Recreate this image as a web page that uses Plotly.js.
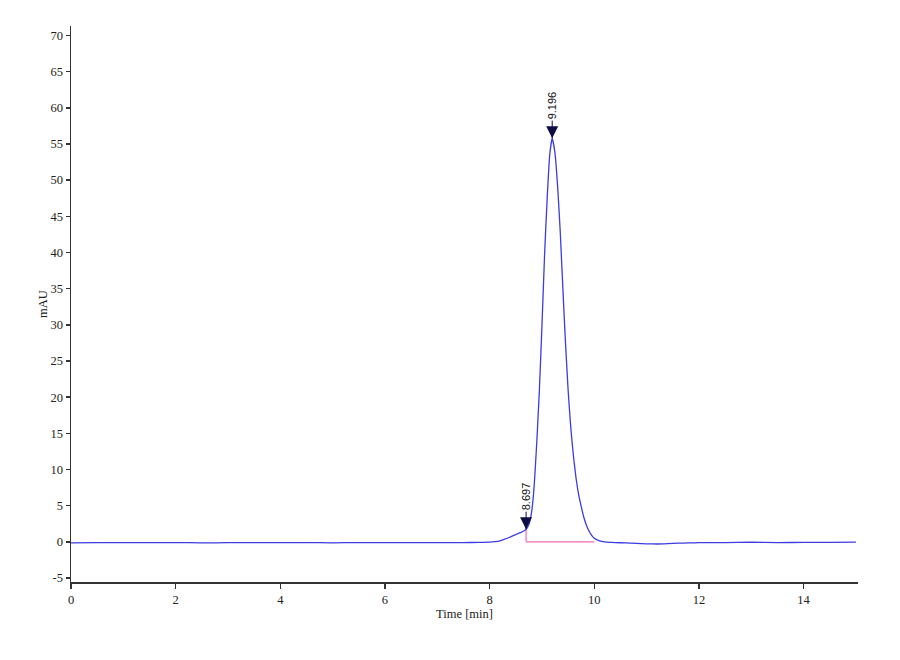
<!DOCTYPE html>
<html>
<head>
<meta charset="utf-8">
<script src="https://cdn.plot.ly/plotly-3.0.1.min.js"></script>
<style>
  html, body { margin: 0; padding: 0; background: #fff; }
  #chart { width: 900px; height: 660px; }
</style>
</head>
<body>
<div id="chart"></div>
<script>
// chromatogram signal (min, mAU)
const time = [0, 0.5, 1, 1.5, 2, 2.5, 3, 3.5, 4, 4.5, 5, 5.5, 6, 6.5, 7, 7.5, 7.8,
  8.0, 8.1, 8.2, 8.3, 8.4, 8.5, 8.6, 8.65, 8.697, 8.75, 8.8, 8.85, 8.9, 8.95,
  9.0, 9.05, 9.1, 9.15, 9.196, 9.25, 9.3, 9.35, 9.4, 9.45, 9.5, 9.55, 9.6, 9.65,
  9.7, 9.75, 9.8, 9.85, 9.9, 9.95, 10.0, 10.1, 10.2, 10.4, 10.6, 10.8, 11.0,
  11.2, 11.4, 11.6, 11.8, 12.0, 12.5, 13, 13.5, 14, 14.5, 15];
const signal = [-0.15, -0.12, -0.1, -0.12, -0.1, -0.14, -0.12, -0.1, -0.12, -0.1, -0.13, -0.1, -0.12, -0.1, -0.12, -0.1, -0.08,
  -0.05, 0.02, 0.15, 0.4, 0.7, 1.0, 1.3, 1.5, 1.75, 2.4, 4.0, 7.6, 13.6, 20.8,
  29.8, 39.6, 47.5, 53.6, 55.8, 53.7, 49.1, 42.8, 35.0, 27.5, 21.0, 15.9, 12.0, 8.9,
  6.6, 4.9, 3.4, 2.3, 1.5, 0.9, 0.5, 0.15, 0.0, -0.1, -0.15, -0.2, -0.28,
  -0.3, -0.25, -0.18, -0.15, -0.1, -0.12, -0.05, -0.1, -0.08, -0.06, -0.05];

// detected peaks
const peakTimes = [8.697, 9.196];
const peakHeights = [1.75, 55.8];
const peakLabels = ["8.697", "9.196"];

// integration baseline of the main peak
const baseStart = 8.697;
const baseEnd = 10.0;
const baseLevel = 0;

const xTicks = [0, 2, 4, 6, 8, 10, 12, 14];
const yTicks = [-5, 0, 5, 10, 15, 20, 25, 30, 35, 40, 45, 50, 55, 60, 65, 70];

const traceColor = "#3c3ce0";
const baseColor = "#f06ab4";
const markColor = "#0d0d45";

const traces = [
  {
    x: [baseStart, baseEnd],
    y: [baseLevel, baseLevel],
    mode: "lines",
    line: { color: baseColor, width: 1.2 },
    hoverinfo: "skip",
  },
  {
    x: [baseStart, baseStart],
    y: [baseLevel, peakHeights[0]],
    mode: "lines",
    line: { color: baseColor, width: 1.2 },
    hoverinfo: "skip",
  },
  {
    x: time,
    y: signal,
    mode: "lines",
    line: { color: traceColor, width: 1.3, shape: "spline", smoothing: 0.4 },
  },
  {
    x: peakTimes,
    y: peakHeights,
    mode: "markers",
    marker: { symbol: "arrow-down", size: 12, color: markColor },
  },
];

const annotations = peakTimes.map((t, i) => ({
  x: t,
  y: peakHeights[i],
  text: peakLabels[i],
  textangle: -90,
  showarrow: true,
  arrowhead: 0,
  arrowwidth: 1,
  arrowcolor: markColor,
  ax: 0,
  ay: -33,
  font: { family: "Liberation Sans, Arial, sans-serif", size: 11, color: "#111" },
}));

const axisFont = { family: "Liberation Serif, Times New Roman, serif", size: 12.5, color: "#222" };

const layout = {
  width: 900,
  height: 660,
  margin: { l: 71, r: 42, t: 26, b: 78 },
  paper_bgcolor: "#ffffff",
  plot_bgcolor: "#ffffff",
  showlegend: false,
  annotations: annotations,
  xaxis: {
    range: [0, 15.04],
    tickvals: xTicks,
    ticktext: xTicks.map(String),
    ticks: "outside",
    ticklen: 5,
    tickwidth: 1.5,
    tickcolor: "#333",
    showline: true,
    linecolor: "#333",
    linewidth: 1.5,
    showgrid: false,
    zeroline: false,
    tickfont: axisFont,
    title: { text: "Time [min]", font: axisFont, standoff: 0 },
  },
  yaxis: {
    range: [-5.55, 71.3],
    tickvals: yTicks,
    ticktext: yTicks.map(String),
    ticks: "outside",
    ticklen: 4,
    tickwidth: 1.5,
    tickcolor: "#333",
    showline: true,
    linecolor: "#333",
    linewidth: 1.5,
    showgrid: false,
    zeroline: false,
    tickfont: axisFont,
    title: { text: "mAU", font: axisFont, standoff: 0 },
  },
};

Plotly.newPlot("chart", traces, layout, { displayModeBar: false, staticPlot: true });
</script>
</body>
</html>
